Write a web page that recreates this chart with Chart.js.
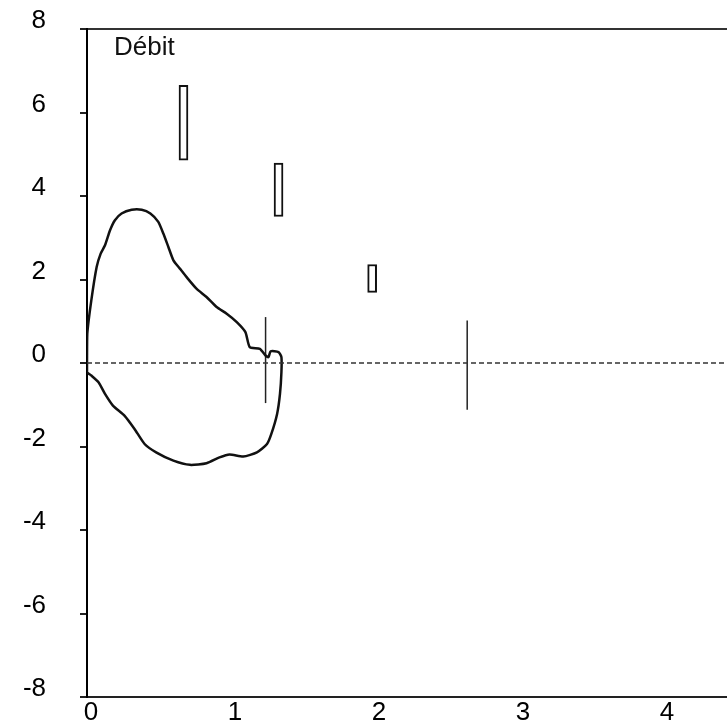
<!DOCTYPE html>
<html>
<head>
<meta charset="utf-8">
<script src="https://cdn.jsdelivr.net/npm/chart.js@4"></script>
<style>
    html, body { margin: 0; padding: 0; background: #fff; }
    #wrap { width: 727px; height: 724px; }
</style>
</head>
<body>
<div id="wrap"><canvas id="graficoBoucle"></canvas></div>
<script>
// Axes
const xTicks = [0, 1, 2, 3, 4];
const yTicks = [-8, -6, -4, -2, 0, 2, 4, 6, 8];
const xMax = 4.444;

// Boucle débit-volume (volume, débit)
const loopX = [0, 0.002, 0.03, 0.067, 0.095, 0.125, 0.16, 0.194, 0.24, 0.31, 0.38, 0.44, 0.495, 0.53, 0.565,
    0.60, 0.645, 0.70, 0.76, 0.83, 0.90, 0.97, 1.04, 1.10, 1.13, 1.20, 1.24, 1.26, 1.275, 1.33, 1.35, 1.35,
    1.34, 1.32, 1.28, 1.25, 1.18, 1.085, 0.99, 0.92, 0.83, 0.715, 0.60, 0.48, 0.40, 0.33, 0.26, 0.18,
    0.125, 0.08, 0.03, 0, 0];
const loopY = [0, 0.70, 1.50, 2.30, 2.62, 2.82, 3.18, 3.42, 3.58, 3.67, 3.67, 3.58, 3.38, 3.10, 2.78,
    2.46, 2.26, 2.02, 1.78, 1.58, 1.34, 1.18, 0.98, 0.74, 0.38, 0.34, 0.18, 0.14, 0.28, 0.26, 0.14, -0.22,
    -0.74, -1.22, -1.70, -1.94, -2.14, -2.24, -2.19, -2.26, -2.40, -2.44, -2.34, -2.14, -1.94, -1.58, -1.26, -1.02,
    -0.74, -0.46, -0.30, -0.22, 0];

// Rectangles (valeurs théoriques)
const barX = [0.67, 1.33, 1.98];
const barLow = [4.86, 3.51, 1.69];
const barHigh = [6.65, 4.79, 2.36];

// Traits verticaux
const markX = [1.24, 2.64];
const markLow = [-0.96, -1.12];
const markHigh = [1.10, 1.02];

const fonte = '"Liberation Sans", Arial, sans-serif';

const rotuloDebit = {
    id: 'rotuloDebit',
    afterDraw(chart) {
        const ctx = chart.ctx;
        ctx.save();
        ctx.font = '26px ' + fonte;
        ctx.fillStyle = '#111';
        ctx.textBaseline = 'middle';
        ctx.fillText('Débit', chart.chartArea.left + 27, chart.chartArea.top + 19);
        ctx.restore();
    }
};

// sem padding extra das etiquetas
function semPadding(s) {
    s.paddingTop = 0;
    s.paddingBottom = 0;
    s.paddingLeft = 0;
    s.paddingRight = 0;
}

const datasets = [
    {
        label: 'zero',
        data: [{ x: 0, y: 0 }, { x: xMax, y: 0 }],
        showLine: true,
        borderColor: '#333',
        borderWidth: 1.5,
        borderDash: [5, 3],
        pointRadius: 0
    },
    {
        label: 'Boucle',
        data: loopX.map((x, i) => ({ x: x, y: loopY[i] })),
        showLine: true,
        borderColor: '#111',
        borderWidth: 2.5,
        pointRadius: 0,
        tension: 0.2
    },
    {
        type: 'bar',
        label: 'Théorique',
        data: barX.map((x, i) => ({ x: x, y: [barLow[i], barHigh[i]] })),
        backgroundColor: '#fff',
        borderColor: '#111',
        borderWidth: 2,
        borderSkipped: false,
        barThickness: 9,
        grouped: false
    }
];

markX.forEach((x, i) => {
    datasets.push({
        label: 'trait' + i,
        data: [{ x: x, y: markLow[i] }, { x: x, y: markHigh[i] }],
        showLine: true,
        borderColor: '#222',
        borderWidth: 1.5,
        pointRadius: 0
    });
});

new Chart(document.getElementById('graficoBoucle'), {
    type: 'scatter',
    data: { datasets: datasets },
    plugins: [rotuloDebit],
    options: {
        responsive: true,
        maintainAspectRatio: false,
        animation: false,
        layout: { padding: 0 },
        plugins: {
            legend: { display: false },
            tooltip: { enabled: false }
        },
        scales: {
            x: {
                type: 'linear',
                position: 'bottom',
                min: 0,
                max: xMax,
                offset: false,
                grid: { display: false, drawTicks: false, tickLength: 0 },
                border: { display: true, color: '#222', width: 2 },
                ticks: {
                    color: '#000',
                    font: { size: 26, family: fonte },
                    padding: 0,
                    labelOffset: 4,
                    maxRotation: 0,
                    autoSkip: false
                },
                afterBuildTicks: s => { s.ticks = xTicks.map(v => ({ value: v })); },
                afterFit: s => { s.height = 27; semPadding(s); }
            },
            x2: {
                type: 'linear',
                display: true,
                position: 'top',
                min: 0,
                max: xMax,
                grid: { display: false, drawTicks: false, tickLength: 0 },
                border: { display: true, color: '#333', width: 2 },
                ticks: { display: false },
                afterFit: s => { s.height = 29; semPadding(s); }
            },
            y: {
                type: 'linear',
                min: -8,
                max: 8,
                grid: {
                    drawOnChartArea: false,
                    drawTicks: true,
                    tickLength: 7,
                    color: '#222',
                    lineWidth: 2
                },
                border: { display: true, color: '#000', width: 2 },
                ticks: {
                    color: '#000',
                    font: { size: 26, family: fonte },
                    padding: 34,
                    labelOffset: -8
                },
                afterBuildTicks: s => { s.ticks = yTicks.map(v => ({ value: v })); },
                afterFit: s => { s.width = 87; semPadding(s); }
            }
        }
    }
});
</script>
</body>
</html>
